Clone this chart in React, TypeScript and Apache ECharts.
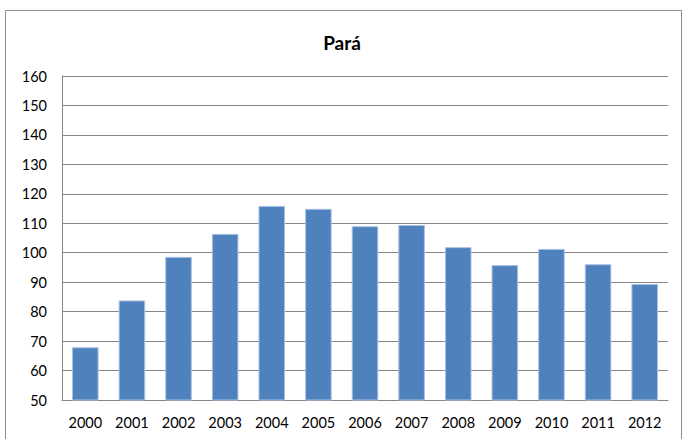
import React, { useEffect, useRef } from "react";
import * as echarts from "echarts";

const years = ["2000", "2001", "2002", "2003", "2004", "2005", "2006", "2007", "2008", "2009", "2010", "2011", "2012"];
const values = [67.9, 83.8, 98.6, 106.4, 115.9, 114.9, 109.0, 109.4, 101.9, 95.8, 101.3, 96.1, 89.4];
const title = "Pará";

export default function App() {
  const ref = useRef<HTMLDivElement>(null);
  useEffect(() => {
    if (!ref.current) return;
    const chart = echarts.init(ref.current, null, { renderer: "svg" });
    const font = "Lato, 'Open Sans', sans-serif";
    chart.setOption({
      animation: false,
      backgroundColor: "#ffffff",
      title: {
        text: title,
        left: "center",
        top: 28,
        textStyle: { fontFamily: font, fontSize: 19, fontWeight: "bold", color: "#000" },
      },
      graphic: [
        {
          type: "rect",
          shape: { x: 5.5, y: 10.5, width: 676, height: 440 },
          style: { fill: "none", stroke: "#8c8c8c", lineWidth: 1 },
          silent: true,
        },
      ],
      grid: { left: 62, right: 16, top: 76, bottom: 39 },
      xAxis: {
        type: "category",
        data: years,
        axisLine: { show: true, lineStyle: { color: "#868686" } },
        axisTick: { show: false },
        axisLabel: { fontFamily: font, fontSize: 14.5, color: "#000", margin: 15 },
      },
      yAxis: {
        type: "value",
        min: 50,
        max: 160,
        interval: 10,
        axisLine: { show: true, lineStyle: { color: "#868686" } },
        axisTick: { show: false },
        splitLine: { lineStyle: { color: "#868686" } },
        axisLabel: { fontFamily: font, fontSize: 14.5, color: "#000", margin: 15 },
      },
      series: [
        {
          type: "bar",
          data: values,
          barWidth: "57%",
          itemStyle: { color: "#4f81bd", borderColor: "#a9c1e2", borderWidth: 1 },
        },
      ],
    });
    return () => chart.dispose();
  }, []);
  return (
    <div
      ref={ref}
      style={{ position: "fixed", left: 0, top: 0, width: 684, height: 439 }}
    />
  );
}
